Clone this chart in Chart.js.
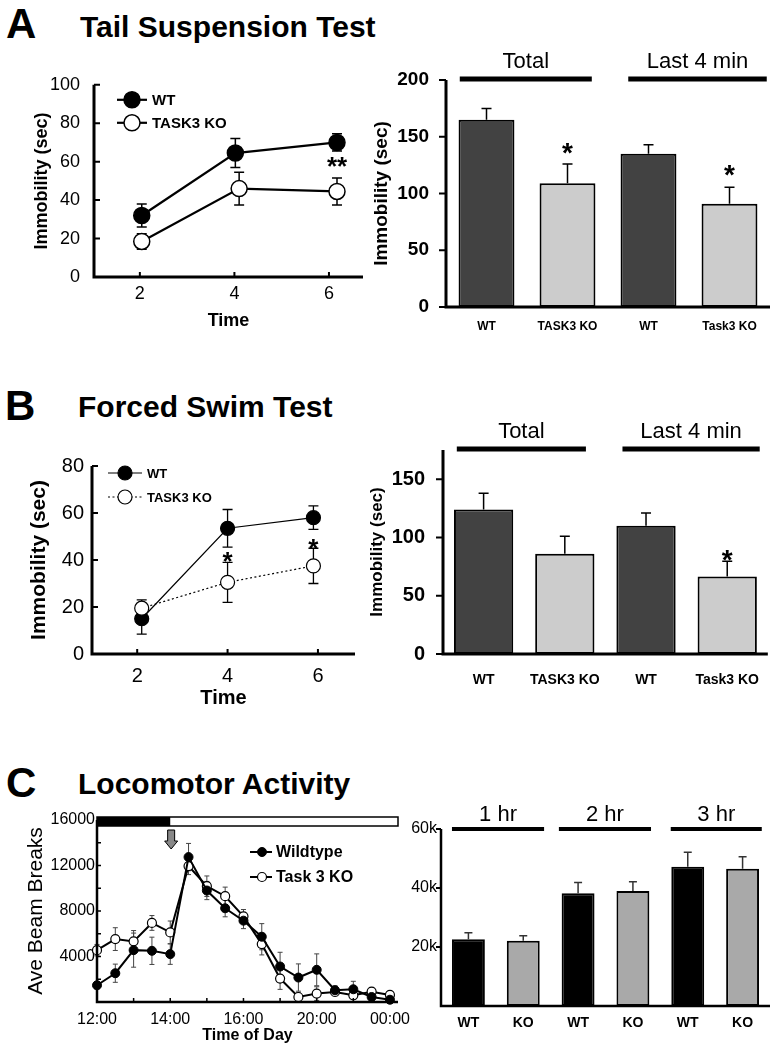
<!DOCTYPE html>
<html>
<head>
<meta charset="utf-8">
<script src="https://cdn.jsdelivr.net/npm/chart.js@4.4.0/dist/chart.umd.min.js"></script>
<style>
  body { margin: 0; width: 778px; height: 1050px; position: relative; overflow: hidden; background: #fff;
         font-family: "Liberation Sans", Arial, Helvetica, sans-serif; }
  canvas { position: absolute; }
  .lbl { position: absolute; font-weight: bold; line-height: 1; white-space: nowrap; color: #000; }
</style>
</head>
<body>
<div class="lbl" style="left:6px;top:3px;font-size:42px">A</div>
<div class="lbl" style="left:80px;top:12px;font-size:30px">Tail Suspension Test</div>
<div class="lbl" style="left:5px;top:385px;font-size:42px">B</div>
<div class="lbl" style="left:78px;top:392px;font-size:30px">Forced Swim Test</div>
<div class="lbl" style="left:6px;top:762px;font-size:42px">C</div>
<div class="lbl" style="left:78px;top:769px;font-size:30px">Locomotor Activity</div>

<canvas id="tstLine"></canvas>
<canvas id="tstBar"></canvas>
<canvas id="fstLine"></canvas>
<canvas id="fstBar"></canvas>
<canvas id="locoLine"></canvas>
<canvas id="locoBar"></canvas>

<script>
// ---- A: tail suspension test ----
const tstTimeWT = [2.04, 4.02, 6.17];
const tstTimeKO = [2.04, 4.1, 6.17];
const tstWT = [32, 64.5, 70];
const tstWTerr = [6, 7.5, 4.5];
const tstKO = [18.5, 46, 44.5];
const tstKOerr = [4, 8.5, 7];
const tstTicks = [0, 20, 40, 60, 80, 100];
const tstTimeTicks = [2, 4, 6];

const barGroups = ['WT', 'TASK3 KO', 'WT', 'Task3 KO'];
const tstBars = [165, 109, 135, 91];
const tstBarErr = [10, 17, 8, 14.5];
const tstBarTicks = [0, 50, 100, 150, 200];

// ---- B: forced swim test ----
const fstTime = [2.1, 4, 5.9];
const fstWT = [15, 53.5, 58];
const fstWTerr = [6.5, 8, 5];
const fstKO = [19.5, 30.5, 37.5];
const fstKOerr = [3.5, 8.5, 7.5];
const fstTicks = [0, 20, 40, 60, 80];
const fstTimeTicks = [2, 4, 6];

const fstBars = [124, 86, 110, 66.5];
const fstBarErr = [14, 15, 11, 13];
const fstBarTicks = [0, 50, 100, 150];

// ---- C: locomotor activity ----
const locoTickPos = [0, 4, 8, 12, 16];
const locoTickLabels = ['12:00', '14:00', '16:00', '20:00', '00:00'];
const locoWT = [1470, 2530, 4560, 4500, 4210, 12740, 9800, 8240, 7150, 5740, 3120, 2150, 2830, 1030, 1120, 440, 200];
const locoWTerr = [300, 800, 1500, 1200, 900, 1200, 800, 750, 700, 1150, 1250, 1200, 1400, 400, 700, 350, 250];
const locoKO = [4560, 5530, 5330, 6950, 6120, 11950, 10180, 9300, 7530, 5090, 2060, 440, 740, 880, 590, 910, 620];
const locoKOerr = [500, 1000, 950, 650, 1000, 750, 900, 800, 600, 950, 950, 350, 600, 350, 350, 350, 300];
const locoTicks = [4000, 8000, 12000, 16000];

const hrGroups = ['WT', 'KO', 'WT', 'KO', 'WT', 'KO'];
const hrBars = [22600, 22100, 38200, 39000, 47200, 46500];
const hrErr = [2200, 1700, 3700, 3100, 4900, 4100];
const hrTicks = [20000, 40000, 60000];

Chart.defaults.font.family = "'Liberation Sans', Arial, Helvetica, sans-serif";
Chart.defaults.color = '#000';

// error bars, axes, inward ticks, headers, stars and legends
const decor = {
  id: 'decor',
  beforeDatasetsDraw(chart, args, o) {
    const ctx = chart.ctx, ys = chart.scales.y;
    ctx.save();
    (o.errors || []).forEach(e => {
      const meta = chart.getDatasetMeta(e.ds);
      ctx.strokeStyle = e.color || '#000';
      ctx.lineWidth = e.width || 1.5;
      meta.data.forEach((el, i) => {
        const d = chart.data.datasets[e.ds].data[i];
        const v = typeof d === 'object' ? d.y : d;
        const top = ys.getPixelForValue(v + e.err[i]);
        const bot = ys.getPixelForValue(e.upOnly ? v : v - e.err[i]);
        ctx.beginPath();
        ctx.moveTo(el.x, top); ctx.lineTo(el.x, bot);
        ctx.moveTo(el.x - e.cap, top); ctx.lineTo(el.x + e.cap, top);
        if (!e.upOnly) { ctx.moveTo(el.x - e.cap, bot); ctx.lineTo(el.x + e.cap, bot); }
        ctx.stroke();
      });
    });
    ctx.restore();
  },
  afterDatasetsDraw(chart, args, o) {
    const ctx = chart.ctx, a = chart.chartArea, xs = chart.scales.x, ys = chart.scales.y;
    ctx.save();
    ctx.strokeStyle = '#000';
    ctx.fillStyle = '#000';

    if (o.dayBar) {
      const y0 = a.top + o.dayBar.dy, h = o.dayBar.h;
      const xm = xs.getPixelForValue(o.dayBar.split);
      ctx.fillStyle = '#fff';
      ctx.fillRect(a.left, y0, a.right - a.left, h);
      ctx.fillStyle = '#000';
      ctx.fillRect(a.left, y0, xm - a.left, h);
      ctx.lineWidth = 1.5;
      ctx.strokeRect(a.left, y0, a.right - a.left, h);
    }
    if (o.arrow) {
      const x = xs.getPixelForValue(o.arrow.x), y0 = a.top + o.arrow.dy;
      ctx.beginPath();
      ctx.moveTo(x - 3.5, y0); ctx.lineTo(x + 3.5, y0); ctx.lineTo(x + 3.5, y0 + 11);
      ctx.lineTo(x + 6.5, y0 + 11); ctx.lineTo(x, y0 + 19); ctx.lineTo(x - 6.5, y0 + 11);
      ctx.lineTo(x - 3.5, y0 + 11); ctx.closePath();
      ctx.fillStyle = '#888'; ctx.fill();
      ctx.lineWidth = 1; ctx.stroke();
      ctx.fillStyle = '#000';
    }

    // axes
    ctx.lineWidth = o.axisWidth || 3;
    ctx.lineJoin = 'miter';
    ctx.beginPath();
    ctx.moveTo(a.left, a.top);
    ctx.lineTo(a.left, a.bottom);
    ctx.lineTo(a.right, a.bottom);
    ctx.stroke();

    // tick marks (positive = inward)
    ctx.lineWidth = o.tickWidth || 2;
    ctx.beginPath();
    (o.yTicks || []).forEach(v => {
      const y = ys.getPixelForValue(v);
      ctx.moveTo(a.left, y); ctx.lineTo(a.left + o.yTickLen, y);
    });
    (o.xTicks || []).forEach(v => {
      const x = xs.getPixelForValue(v);
      ctx.moveTo(x, a.bottom); ctx.lineTo(x, a.bottom - o.xTickLen);
    });
    ctx.stroke();

    // group headers above bars
    (o.headers || []).forEach(h => {
      const x1 = xs.getPixelForValue(h.from), x2 = xs.getPixelForValue(h.to);
      const y = a.top + o.headerDy;
      ctx.lineWidth = o.headerWidth;
      ctx.beginPath(); ctx.moveTo(x1, y); ctx.lineTo(x2, y); ctx.stroke();
      ctx.font = o.headerFont;
      ctx.textAlign = 'center';
      ctx.textBaseline = 'middle';
      ctx.fillText(h.text, (x1 + x2) / 2, y + o.headerTextDy);
    });

    // significance stars
    (o.stars || []).forEach(s => {
      ctx.font = 'bold ' + o.starSize + 'px "Liberation Sans", Arial, sans-serif';
      ctx.textAlign = 'center';
      ctx.textBaseline = 'alphabetic';
      ctx.fillText(s.text, xs.getPixelForValue(s.x), ys.getPixelForValue(s.y) + o.starSize * 0.58);
    });

    // legend
    if (o.legend) {
      const L = o.legend;
      L.items.forEach(it => {
        const ds = chart.data.datasets[it.ds];
        const y = a.top + it.dy;
        ctx.strokeStyle = '#000';
        ctx.lineWidth = ds.borderWidth;
        ctx.setLineDash(ds.borderDash || []);
        ctx.beginPath();
        ctx.moveTo(a.left + L.x0, y); ctx.lineTo(a.left + L.x1, y);
        ctx.stroke();
        ctx.setLineDash([]);
        ctx.beginPath();
        ctx.arc(a.left + L.xm, y, ds.pointRadius, 0, Math.PI * 2);
        ctx.fillStyle = ds.pointBackgroundColor;
        ctx.fill();
        ctx.lineWidth = ds.pointBorderWidth;
        ctx.stroke();
        ctx.fillStyle = '#000';
        ctx.font = L.font;
        ctx.textAlign = 'left';
        ctx.textBaseline = 'middle';
        ctx.fillText(it.text, a.left + L.xt, y + 1);
      });
    }
    ctx.restore();
  }
};

function fixTicks(vals) {
  return s => { s.ticks = vals.map(v => ({ value: v })); };
}

function makeChart(id, box, area, cfg) {
  const c = document.getElementById(id);
  c.width = box.w; c.height = box.h;
  c.style.left = box.x + 'px';
  c.style.top = box.y + 'px';
  const o = cfg.options;
  o.responsive = false;
  o.animation = false;
  o.layout = { autoPadding: false, padding: { left: 0, bottom: 0, top: area.t - box.y, right: box.x + box.w - area.r } };
  o.scales.x.afterFit = s => { s.height = box.y + box.h - area.b; };
  o.scales.y.afterFit = s => { s.width = area.l - box.x; };
  o.scales.x.grid = { display: false, drawTicks: false };
  o.scales.y.grid = { display: false, drawTicks: false };
  o.scales.x.border = { display: false };
  o.scales.y.border = { display: false };
  o.plugins = Object.assign({ legend: { display: false }, tooltip: { enabled: false } }, o.plugins);
  cfg.plugins = [decor];
  return new Chart(c, cfg);
}

function pts(xs, ys) {
  return ys.map((y, i) => ({ x: xs[i], y: y }));
}

const F = (size, bold) => ({ size: size, weight: bold ? 'bold' : 'normal' });

// ---------- A left ----------
makeChart('tstLine', { x: 0, y: 60, w: 372, h: 280 }, { l: 94, t: 80, r: 363, b: 277 }, {
  type: 'line',
  data: {
    datasets: [
      { data: pts(tstTimeWT, tstWT), borderColor: '#000', borderWidth: 2.2, pointRadius: 8,
        pointBackgroundColor: '#000', pointBorderColor: '#000', pointBorderWidth: 1.5, clip: false },
      { data: pts(tstTimeKO, tstKO), borderColor: '#000', borderWidth: 2.2, pointRadius: 8,
        pointBackgroundColor: '#fff', pointBorderColor: '#000', pointBorderWidth: 1.5, clip: false }
    ]
  },
  options: {
    scales: {
      x: { type: 'linear', min: 1.03, max: 6.72, afterBuildTicks: fixTicks(tstTimeTicks),
           ticks: { font: F(18), padding: 6, callback: v => String(v) },
           title: { display: true, text: 'Time', font: F(18, true), padding: { bottom: 8 } } },
      y: { min: 0, max: 100, afterBuildTicks: fixTicks(tstTicks),
           ticks: { font: F(18), padding: 14, callback: v => String(v) },
           title: { display: true, text: 'Immobility (sec)', font: F(18, true), padding: { top: 31 } } }
    },
    plugins: {
      decor: {
        errors: [{ ds: 0, err: tstWTerr, cap: 5, width: 1.5 }, { ds: 1, err: tstKOerr, cap: 5, width: 1.5 }],
        yTicks: [20, 40, 60, 80, 100], yTickLen: 6, xTicks: tstTimeTicks, xTickLen: 5,
        stars: [{ x: 6.17, y: 61, text: '**' }], starSize: 26,
        legend: { x0: 23, x1: 53, xm: 38, xt: 58, font: 'bold 15px "Liberation Sans", Arial, sans-serif',
                  items: [{ ds: 0, dy: 15, text: 'WT' }, { ds: 1, dy: 38, text: 'TASK3 KO' }] }
      }
    }
  }
});

// ---------- A right ----------
makeChart('tstBar', { x: 360, y: 40, w: 418, h: 300 }, { l: 446, t: 80, r: 770, b: 307 }, {
  type: 'bar',
  data: {
    labels: barGroups,
    datasets: [{ data: tstBars, backgroundColor: ['#424242', '#cccccc', '#424242', '#cccccc'],
                 borderColor: '#000', borderWidth: 2, borderSkipped: false,
                 barPercentage: 0.69, categoryPercentage: 1 }]
  },
  options: {
    scales: {
      x: { ticks: { font: F(12, true), padding: 12, autoSkip: false, maxRotation: 0 } },
      y: { min: 0, max: 200, afterBuildTicks: fixTicks(tstBarTicks),
           ticks: { font: F(19, true), padding: 17, callback: v => String(v) },
           title: { display: true, text: 'Immobility (sec)', font: F(19, true), padding: { top: 10 } } }
    },
    plugins: {
      decor: {
        errors: [{ ds: 0, err: tstBarErr, cap: 5, width: 1.5, upOnly: true }],
        yTicks: tstBarTicks, yTickLen: -7,
        headers: [{ from: -0.33, to: 1.3, text: 'Total' }, { from: 1.75, to: 3.46, text: 'Last 4 min' }],
        headerDy: -1, headerWidth: 5, headerTextDy: -17, headerFont: '22px "Liberation Sans", Arial, sans-serif',
        stars: [{ x: 1, y: 142, text: '*' }, { x: 3, y: 122.5, text: '*' }], starSize: 28
      }
    }
  }
});

// ---------- B left ----------
makeChart('fstLine', { x: 0, y: 440, w: 372, h: 280 }, { l: 92, t: 466, r: 355, b: 654 }, {
  type: 'line',
  data: {
    datasets: [
      { data: pts(fstTime, fstKO), borderColor: '#000', borderWidth: 1.2, borderDash: [2, 2.5], pointRadius: 7,
        pointBackgroundColor: '#fff', pointBorderColor: '#000', pointBorderWidth: 1.2, clip: false },
      { data: pts(fstTime, fstWT), borderColor: '#000', borderWidth: 1.2, pointRadius: 7,
        pointBackgroundColor: '#000', pointBorderColor: '#000', pointBorderWidth: 1.2, clip: false }
    ]
  },
  options: {
    scales: {
      x: { type: 'linear', min: 1.0, max: 6.82, afterBuildTicks: fixTicks(fstTimeTicks),
           ticks: { font: F(20), padding: 10, callback: v => String(v) },
           title: { display: true, text: 'Time', font: F(20, true), padding: { bottom: 10 } } },
      y: { min: 0, max: 80, afterBuildTicks: fixTicks(fstTicks),
           ticks: { font: F(20), padding: 8, callback: v => String(v) },
           title: { display: true, text: 'Immobility (sec)', font: F(21, true), padding: { top: 27 } } }
    },
    plugins: {
      decor: {
        errors: [{ ds: 1, err: fstWTerr, cap: 5, width: 1.3 }, { ds: 0, err: fstKOerr, cap: 5, width: 1.3 }],
        yTicks: [20, 40, 60, 80], yTickLen: 6, xTicks: fstTimeTicks, xTickLen: 5,
        stars: [{ x: 4, y: 42, text: '*' }, { x: 5.9, y: 47.5, text: '*' }], starSize: 26,
        legend: { x0: 16, x1: 50, xm: 33, xt: 55, font: 'bold 13px "Liberation Sans", Arial, sans-serif',
                  items: [{ ds: 1, dy: 7, text: 'WT' }, { ds: 0, dy: 31, text: 'TASK3 KO' }] }
      }
    }
  }
});

// ---------- B right ----------
makeChart('fstBar', { x: 360, y: 400, w: 418, h: 320 }, { l: 443, t: 450, r: 770, b: 654 }, {
  type: 'bar',
  data: {
    labels: barGroups,
    datasets: [{ data: fstBars, backgroundColor: ['#424242', '#cccccc', '#424242', '#cccccc'],
                 borderColor: '#000', borderWidth: 2, borderSkipped: false,
                 barPercentage: 0.73, categoryPercentage: 1 }]
  },
  options: {
    scales: {
      x: { ticks: { font: F(14, true), padding: 18, autoSkip: false, maxRotation: 0 } },
      y: { min: 0, max: 175, afterBuildTicks: fixTicks(fstBarTicks),
           ticks: { font: F(20, true), padding: 18, callback: v => String(v) },
           title: { display: true, text: 'Immobility (sec)', font: F(17, true), padding: { top: 7 } } }
    },
    plugins: {
      decor: {
        errors: [{ ds: 0, err: fstBarErr, cap: 5, width: 1.5, upOnly: true }],
        yTicks: fstBarTicks, yTickLen: -7,
        headers: [{ from: -0.33, to: 1.26, text: 'Total' }, { from: 1.71, to: 3.4, text: 'Last 4 min' }],
        headerDy: -1, headerWidth: 5, headerTextDy: -17, headerFont: '22px "Liberation Sans", Arial, sans-serif',
        stars: [{ x: 3, y: 87, text: '*' }], starSize: 28
      }
    }
  }
});

// ---------- C left ----------
const locoIdx = locoWT.map((v, i) => i);
makeChart('locoLine', { x: 0, y: 800, w: 420, h: 250 }, { l: 97, t: 820, r: 398, b: 1002 }, {
  type: 'line',
  data: {
    datasets: [
      { data: pts(locoIdx, locoWT), borderColor: '#000', borderWidth: 2, pointRadius: 4.5,
        pointBackgroundColor: '#000', pointBorderColor: '#000', pointBorderWidth: 1, clip: false },
      { data: pts(locoIdx, locoKO), borderColor: '#000', borderWidth: 2, pointRadius: 4.5,
        pointBackgroundColor: '#fff', pointBorderColor: '#000', pointBorderWidth: 1.2, clip: false }
    ]
  },
  options: {
    scales: {
      x: { type: 'linear', min: 0, max: 16.44, afterBuildTicks: fixTicks(locoTickPos),
           ticks: { font: F(16), padding: 8, callback: v => locoTickLabels[locoTickPos.indexOf(v)] },
           title: { display: true, text: 'Time of Day', font: F(16, true), padding: { bottom: 5 } } },
      y: { min: 0, max: 16000, afterBuildTicks: fixTicks(locoTicks),
           ticks: { font: F(16), padding: 2, callback: v => String(v) },
           title: { display: true, text: 'Ave Beam Breaks', font: F(21), padding: { top: 24 } } }
    },
    plugins: {
      decor: {
        errors: [{ ds: 0, err: locoWTerr, cap: 2.5, width: 1, color: '#444' },
                 { ds: 1, err: locoKOerr, cap: 2.5, width: 1, color: '#444' }],
        axisWidth: 2.5, tickWidth: 1.5,
        yTicks: [2000, 4000, 6000, 8000, 10000, 12000, 14000], yTickLen: 4,
        xTicks: [2, 4, 6, 8, 10, 12, 14], xTickLen: 4,
        dayBar: { dy: -3, h: 9, split: 4 },
        arrow: { x: 4.05, dy: 10 },
        legend: { x0: 153, x1: 175, xm: 165, xt: 179, font: 'bold 16px "Liberation Sans", Arial, sans-serif',
                  items: [{ ds: 0, dy: 32, text: 'Wildtype' }, { ds: 1, dy: 57, text: 'Task 3 KO' }] }
      }
    }
  }
});

// ---------- C right ----------
makeChart('locoBar', { x: 390, y: 790, w: 388, h: 260 }, { l: 441, t: 829, r: 770, b: 1006 }, {
  type: 'bar',
  data: {
    labels: hrGroups,
    datasets: [{ data: hrBars, backgroundColor: ['#000', '#a9a9a9', '#000', '#a9a9a9', '#000', '#a9a9a9'],
                 borderColor: '#000', borderWidth: 2, borderSkipped: false,
                 barPercentage: 0.6, categoryPercentage: 1 }]
  },
  options: {
    scales: {
      x: { ticks: { font: F(14, true), padding: 9, autoSkip: false, maxRotation: 0 } },
      y: { min: 0, max: 60000, afterBuildTicks: fixTicks(hrTicks),
           ticks: { font: F(16), padding: 4, callback: v => (v / 1000) + 'k' } }
    },
    plugins: {
      decor: {
        errors: [{ ds: 0, err: hrErr, cap: 4, width: 1.5, color: '#333', upOnly: true }],
        axisWidth: 2.5,
        yTicks: hrTicks, yTickLen: -5,
        headers: [{ from: -0.3, to: 1.38, text: '1 hr' }, { from: 1.65, to: 3.33, text: '2 hr' },
                  { from: 3.69, to: 5.35, text: '3 hr' }],
        headerDy: 0, headerWidth: 4, headerTextDy: -14, headerFont: '22px "Liberation Sans", Arial, sans-serif'
      }
    }
  }
});
</script>
</body>
</html>
